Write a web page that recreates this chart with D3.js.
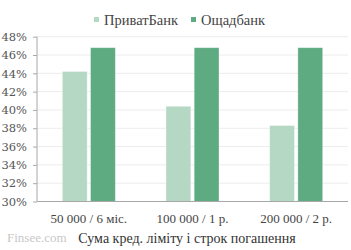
<!doctype html>
<html>
<head>
<style>
  body { margin: 0; background: #fff; }
  text { font-family: "Liberation Serif", "DejaVu Serif", serif; }
</style>
<script src="https://d3js.org/d3.v7.min.js"></script>
</head>
<body>
<svg width="351" height="250"></svg>
<script>
var categories = ["50 000 / 6 міс.", "100 000 / 1 р.", "200 000 / 2 р."];
var seriesNames = ["ПриватБанк", "Ощадбанк"];
var privat = [44.2, 40.4, 38.3];
var oschad = [46.8, 46.8, 46.8];
var yTicks = [30, 32, 34, 36, 38, 40, 42, 44, 46, 48];
var colors = ["#b4d8c4", "#5eab82"];

var svg = d3.select("svg");
var plotLeft = 37, plotRight = 348, plotTop = 36.7, plotBottom = 201.5;

var x = d3.scaleBand().domain(categories).range([plotLeft, plotRight]);
var sub = d3.scaleBand().domain(seriesNames).range([0, 53]).paddingInner(0.12);
var y = d3.scaleLinear().domain([30, 48]).range([plotBottom, plotTop]);

// grid
svg.append("g").selectAll("line")
  .data(yTicks.slice(1))
  .enter().append("line")
  .attr("x1", plotLeft).attr("x2", plotRight)
  .attr("y1", function(d) { return y(d); })
  .attr("y2", function(d) { return y(d); })
  .attr("stroke", "#ececec").attr("stroke-width", 1);

var data = categories.map(function(c, i) {
  return [{s: seriesNames[0], c: c, v: privat[i]}, {s: seriesNames[1], c: c, v: oschad[i]}];
});

svg.append("g").selectAll("g")
  .data(data)
  .enter().append("g")
  .attr("transform", function(d) { return "translate(" + (x(d[0].c) + x.bandwidth() / 2 - 26.5) + ",0)"; })
  .selectAll("rect")
  .data(function(d) { return d; })
  .enter().append("rect")
  .attr("x", function(d) { return sub(d.s); })
  .attr("width", sub.bandwidth())
  .attr("y", function(d) { return y(d.v); })
  .attr("height", function(d) { return plotBottom - y(d.v); })
  .attr("fill", function(d) { return d.s === seriesNames[0] ? colors[0] : colors[1]; })
  .attr("stroke", "#ffffff").attr("stroke-opacity", 0.4).attr("stroke-width", 0.8);

// y axis
var yAxis = svg.append("g")
  .attr("transform", "translate(" + plotLeft + ",0)")
  .call(d3.axisLeft(y).tickValues(yTicks).tickSize(4).tickPadding(6)
    .tickFormat(function(d) { return d + "%"; }));
yAxis.select(".domain").attr("stroke", "#a8a8a8").attr("d", "M0," + plotTop + "V" + plotBottom);
yAxis.selectAll(".tick line").attr("stroke", "#a8a8a8");
yAxis.selectAll("text").attr("fill", "#555")
  .style("font-family", "'DejaVu Serif', serif").style("font-size", "11.5px");

// x axis
var xAxis = svg.append("g")
  .attr("transform", "translate(0," + plotBottom + ")")
  .call(d3.axisBottom(x).tickSize(0).tickPadding(12));
xAxis.select(".domain").attr("stroke", "#a8a8a8").attr("d", "M" + plotLeft + ",0H" + plotRight);
xAxis.selectAll("text").attr("fill", "#444").style("font-size", "13px");

// axis title
svg.append("text").attr("x", 187).attr("y", 243).attr("text-anchor", "middle")
  .attr("fill", "#333").style("font-size", "14px")
  .text("Сума кред. ліміту і строк погашення");

svg.append("text").attr("x", 7).attr("y", 242)
  .attr("fill", "#c8c8c8").style("font-size", "13px").text("Finsee.com");

// legend
var legendX = [94, 191];
var lg = svg.append("g").selectAll("g")
  .data(seriesNames)
  .enter().append("g")
  .attr("transform", function(d, i) { return "translate(" + legendX[i] + ",17)"; });
lg.append("rect").attr("width", 5).attr("height", 5)
  .attr("fill", function(d, i) { return colors[i]; });
lg.append("text").attr("x", 10).attr("y", 7.5)
  .attr("fill", "#444").style("font-size", "14.5px")
  .text(function(d) { return d; });
</script>
</body>
</html>
